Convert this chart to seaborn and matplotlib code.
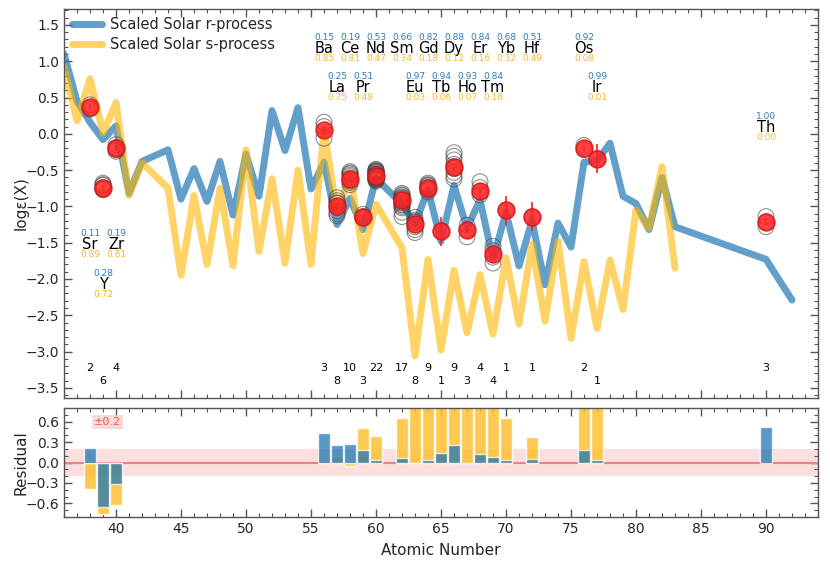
import numpy as np
import pandas as pd
import matplotlib
matplotlib.use('Agg')
import matplotlib.pyplot as plt
import seaborn as sns
from matplotlib.ticker import MultipleLocator


# scaled solar r-process curve (atomic number, log eps)
r_z = [36, 37, 38, 39, 40, 41, 42, 44, 45, 46, 47, 48, 49, 50, 51, 52, 53, 54, 55,
       56, 57, 58, 59, 60, 62, 63, 64, 65, 66, 67, 68, 69, 70, 71, 72, 73, 74, 75,
       76, 77, 78, 79, 80, 81, 82, 83, 90, 92]
r_val = [1.10, 0.45, 0.16, -0.08, 0.11, -0.82, -0.38, -0.22, -0.90, -0.48, -0.93, -0.38,
         -1.12, -0.28, -0.86, 0.32, -0.23, 0.36, -0.76,
         -0.39, -1.25, -0.89, -1.32, -0.61, -0.97, -1.24, -0.77, -1.48, -0.71, -1.30,
         -0.91, -1.73, -1.08, -1.82, -1.19, -2.08, -1.23, -1.56,
         -0.39, -0.37, -0.13, -0.86, -0.96, -1.32, -0.60, -1.28, -1.73, -2.29]

# scaled solar s-process curve
s_z = [36, 37, 38, 39, 40, 41, 42, 44, 45, 46, 47, 48, 49, 50, 51, 52, 53, 54, 55,
       56, 57, 58, 59, 60, 62, 63, 64, 65, 66, 67, 68, 69, 70, 71, 72, 73, 74, 75,
       76, 77, 78, 79, 80, 81, 82, 83]
s_val = [0.92, 0.18, 0.76, 0.01, 0.43, -0.85, -0.40, -0.75, -1.95, -0.85, -1.80, -0.75,
         -1.82, -0.22, -1.62, -0.62, -1.78, -0.50, -1.80,
         0.05, -1.09, -0.57, -1.65, -0.97, -1.57, -3.06, -1.73, -2.98, -1.88, -2.74,
         -1.94, -2.76, -1.71, -2.62, -1.52, -2.58, -1.48, -2.82,
         -1.76, -2.68, -1.74, -2.42, -1.05, -1.30, -0.45, -1.85]

# observed mean abundances
obs_el = ['Sr', 'Y', 'Zr', 'Ba', 'La', 'Ce', 'Pr', 'Nd', 'Sm', 'Eu', 'Gd', 'Tb',
          'Dy', 'Ho', 'Er', 'Tm', 'Yb', 'Hf', 'Os', 'Ir', 'Th']
obs_z = [38, 39, 40, 56, 57, 58, 59, 60, 62, 63, 64, 65, 66, 67, 68, 69, 70, 72, 76, 77, 90]
obs_val = [0.37, -0.74, -0.20, 0.05, -1.00, -0.62, -1.14, -0.58, -0.91, -1.24, -0.74, -1.34,
           -0.46, -1.32, -0.79, -1.65, -1.05, -1.14, -0.20, -0.34, -1.21]
obs_err = [0.04, 0.03, 0.04, 0.06, 0.05, 0.03, 0.04, 0.02, 0.03, 0.04, 0.03, 0.20,
           0.05, 0.05, 0.04, 0.05, 0.20, 0.20, 0.04, 0.20, 0.04]
obs_n = [2, 6, 4, 3, 8, 10, 3, 22, 17, 8, 9, 1, 9, 3, 4, 4, 1, 1, 2, 1, 3]
frac_r = [0.11, 0.28, 0.19, 0.15, 0.25, 0.19, 0.51, 0.53, 0.66, 0.97, 0.82, 0.94,
          0.88, 0.93, 0.84, 0.84, 0.68, 0.51, 0.92, 0.99, 1.00]
frac_s = [0.89, 0.72, 0.81, 0.85, 0.75, 0.81, 0.49, 0.47, 0.34, 0.03, 0.18, 0.06,
          0.12, 0.07, 0.16, 0.16, 0.32, 0.49, 0.08, 0.01, 0.00]

# individual star measurements
indiv = {
    38: [0.40, 0.34],
    39: [-0.68, -0.71, -0.74, -0.77, -0.70, -0.76],
    40: [-0.15, -0.19, -0.24, -0.22],
    56: [0.16, 0.10, -0.06],
    57: [-0.88, -0.92, -0.96, -1.02, -1.06, -1.10, -1.13, -0.95],
    58: [-0.52, -0.55, -0.59, -0.63, -0.67, -0.57, -0.61, -0.65, -0.54, -0.70],
    59: [-1.11, -1.16, -1.14],
    60: [-0.49, -0.52, -0.54, -0.56, -0.58, -0.60, -0.62, -0.64, -0.50, -0.53, -0.55,
         -0.57, -0.59, -0.61, -0.63, -0.51, -0.56, -0.60, -0.65, -0.52, -0.58, -0.62],
    62: [-0.82, -0.85, -0.88, -0.90, -0.92, -0.95, -0.98, -1.02, -1.08, -1.14,
         -0.84, -0.87, -0.89, -0.91, -0.94, -0.97, -1.00],
    63: [-1.15, -1.19, -1.22, -1.25, -1.28, -1.32, -1.36, -1.21],
    64: [-0.68, -0.70, -0.72, -0.74, -0.76, -0.78, -0.80, -0.71, -0.75],
    65: [-1.34],
    66: [-0.26, -0.31, -0.36, -0.42, -0.48, -0.53, -0.58, -0.62, -0.45],
    67: [-1.26, -1.32, -1.42],
    68: [-0.66, -0.74, -0.80, -0.84],
    69: [-1.55, -1.61, -1.70, -1.78],
    70: [-1.05],
    72: [-1.14],
    76: [-0.16, -0.22],
    77: [-0.34],
    90: [-1.14, -1.21, -1.28],
}

C_R = '#1f77b4'
C_S = '#ffb703'
C_OBS = '#ff2222'


def main():
    sns.set_style('ticks')
    plt.rcParams['font.family'] = ['DejaVu Sans']

    r_df = pd.DataFrame({'Z': r_z, 'val': r_val})
    s_df = pd.DataFrame({'Z': s_z, 'val': s_val})
    obs = pd.DataFrame({'el': obs_el, 'Z': obs_z, 'val': obs_val, 'err': obs_err,
                        'n': obs_n, 'fr': frac_r, 'fs': frac_s})
    ind = pd.DataFrame([(z, v) for z, vals in indiv.items() for v in vals], columns=['Z', 'val'])

    fig = plt.figure(figsize=(8.3, 5.71), dpi=100)
    ax = fig.add_axes([64 / 830, 1 - 398 / 571, 754 / 830, 389 / 571])
    axr = fig.add_axes([64 / 830, 1 - 517 / 571, 754 / 830, 109 / 571])

    sns.lineplot(data=r_df, x='Z', y='val', ax=ax, color=C_R, lw=5, alpha=0.7,
                 sort=False, label='Scaled Solar r-process')
    sns.lineplot(data=s_df, x='Z', y='val', ax=ax, color=C_S, lw=5, alpha=0.6,
                 sort=False, label='Scaled Solar s-process')

    sns.scatterplot(data=ind, x='Z', y='val', ax=ax, s=130, facecolor='none',
                    edgecolor='#444444', linewidth=0.8, alpha=0.6, zorder=4, legend=False)
    ax.errorbar(obs['Z'], obs['val'], yerr=obs['err'], fmt='none', ecolor=C_OBS,
                elinewidth=1.5, alpha=0.85, zorder=5)
    sns.scatterplot(data=obs, x='Z', y='val', ax=ax, s=150, color=C_OBS, edgecolor='#dd1111',
                    linewidth=1, alpha=0.85, zorder=6, legend=False)

    # element labels with r / s fractions
    for _, row in obs.iterrows():
        z = row['Z']
        if z in (38, 40):
            ylab = -1.52
        elif z == 39:
            ylab = -2.07
        elif z == 90:
            ylab = 0.09
        elif z % 2 == 0:
            ylab = 1.18
        else:
            ylab = 0.64
        ax.text(z, ylab, row['el'], ha='center', va='center', fontsize=10.5, color='black')
        ax.annotate('%.2f' % row['fr'], (z, ylab), xytext=(0, 7.8), textcoords='offset points',
                    ha='center', va='center', fontsize=6.5, color='#2b7bb9')
        ax.annotate('%.2f' % row['fs'], (z, ylab), xytext=(0, -7.5), textcoords='offset points',
                    ha='center', va='center', fontsize=6.5, color='#f5b82e')
        ycount = -3.22 if z % 2 == 0 else -3.40
        ax.text(z, ycount, str(row['n']), ha='center', va='center', fontsize=8, color='black')

    ax.legend(loc='upper left', frameon=False, fontsize=10.5, handlelength=2.05,
              handletextpad=0.55, borderaxespad=0.15, labelspacing=0.35)

    ax.set_xlim(36, 94)
    ax.set_ylim(-3.64, 1.72)
    ax.set_xlabel('')
    ax.set_ylabel('logε(X)', fontsize=11)
    ax.tick_params(labelbottom=False)
    ax.yaxis.set_major_locator(MultipleLocator(0.5))
    ax.yaxis.set_minor_locator(MultipleLocator(0.1))

    # residual panel
    r_map = dict(zip(r_z, r_val))
    s_map = dict(zip(s_z, s_val))
    res = obs.copy()
    res['res_r'] = [v - r_map[z] for z, v in zip(obs_z, obs_val)]
    res['res_s'] = [v - s_map[z] if z in s_map else np.nan for z, v in zip(obs_z, obs_val)]

    axr.axhspan(-0.2, 0.2, color='#f6b0b0', alpha=0.4, lw=0, zorder=0)
    axr.axhline(0, color='#f08080', lw=1.5, zorder=1)
    rs = res.dropna(subset=['res_s'])
    axr.bar(rs['Z'], rs['res_s'], width=0.92, color='#ffc132', alpha=0.85, zorder=2)
    axr.bar(res['Z'], res['res_r'], width=0.92, color=C_R, alpha=0.75, zorder=3)
    axr.text(38.3, 0.6, '±0.2', color='#ee5555', fontsize=8, ha='left', va='center',
             bbox=dict(facecolor='#f9d0d0', edgecolor='none', pad=1.5, alpha=0.8))

    axr.set_xlim(36, 94)
    axr.set_ylim(-0.8, 0.8)
    axr.set_xlabel('Atomic Number', fontsize=11, labelpad=5)
    axr.set_ylabel('Residual', fontsize=11)
    axr.yaxis.set_major_locator(MultipleLocator(0.3))
    axr.yaxis.set_minor_locator(MultipleLocator(0.1))

    for a in (ax, axr):
        a.xaxis.set_major_locator(MultipleLocator(5))
        a.xaxis.set_minor_locator(MultipleLocator(1))
        a.tick_params(which='both', direction='in', top=True, right=True,
                      color='#555555', labelsize=10)
        a.tick_params(which='major', length=6, width=1)
        a.tick_params(which='minor', length=3, width=0.8)
        for sp in a.spines.values():
            sp.set_color('#555555')
            sp.set_linewidth(1)
        a.yaxis.set_label_coords(-0.047, 0.5)

    fig.savefig('out.png', dpi=100)
    plt.close(fig)


if __name__ == '__main__':
    main()
